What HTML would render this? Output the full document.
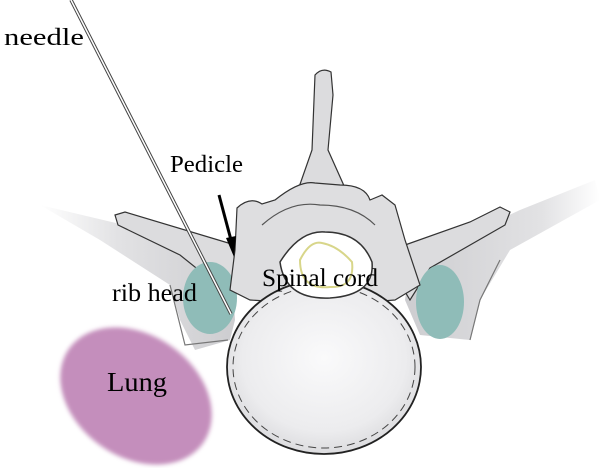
<!DOCTYPE html>
<html><head><meta charset="utf-8"><style>
html,body{margin:0;padding:0;background:#fff;width:600px;height:468px;overflow:hidden}
svg{display:block}
text{font-family:"Liberation Serif",serif;fill:#000}
</style></head><body>
<svg width="600" height="468" viewBox="0 0 600 468" xmlns="http://www.w3.org/2000/svg">
<defs>
<linearGradient id="rl" x1="0" y1="0" x2="1" y2="0">
<stop offset="0" stop-color="#fff"/><stop offset="0.4" stop-color="#e2e2e4"/><stop offset="1" stop-color="#cdcdd0"/></linearGradient>
<linearGradient id="rr" x1="1" y1="0" x2="0" y2="0">
<stop offset="0" stop-color="#fff"/><stop offset="0.3" stop-color="#e2e2e4"/><stop offset="1" stop-color="#cdcdd0"/></linearGradient>
<radialGradient id="bd" cx="0.5" cy="0.45" r="0.6">
<stop offset="0" stop-color="#fafafb"/><stop offset="0.7" stop-color="#ececee"/><stop offset="1" stop-color="#d6d6d9"/></radialGradient>
<filter id="bl"><feGaussianBlur stdDeviation="2"/></filter>
</defs>
<ellipse cx="136" cy="396" rx="82" ry="61" transform="rotate(35 136 396)" fill="#c48ebc" filter="url(#bl)"/>
<path d="M40 205 L230 250 L235 320 L230 340 L195 350 L180 320 L170 285 L100 240 Z" fill="url(#rl)"/>
<path d="M170 285 L185 345 L228 340" stroke="#777" stroke-width="1.2" fill="none"/>
<path d="M595 180 L520 210 L410 262 L405 300 L420 335 L470 340 L480 300 L510 250 L600 200 Z" fill="url(#rr)"/>
<path d="M470 340 L480 300 L500 260" stroke="#777" stroke-width="1.2" fill="none"/>
<path d="M115 215 L125 212 L235 245 L240 290 L225 300 L205 275 L180 255 L118 225 Z" fill="#dcdcde" stroke="#333" stroke-width="1.2"/>
<path d="M500 207 L510 212 L505 225 L430 268 L410 300 L398 280 L405 245 L470 222 Z" fill="#dcdcde" stroke="#333" stroke-width="1.2"/>
<ellipse cx="210" cy="298" rx="27" ry="36" fill="#8fbcb8"/>
<ellipse cx="440" cy="302" rx="24" ry="37" fill="#8fbcb8"/>
<path d="M315 75 Q322 67 331 72 L333 95 L328 150 L345 188 L298 190 L312 150 Z" fill="#dcdcde" stroke="#333" stroke-width="1.2"/>
<path d="M237 208 Q250 196 262 204 L275 200 Q300 180 315 183 L340 185 Q365 185 370 200 L382 195 L395 205 L405 240 L420 285 L395 300 L330 305 L250 300 L230 290 L235 250 Z" fill="#dedee0" stroke="#333" stroke-width="1.2"/>
<path d="M262 225 Q290 200 320 205 Q355 205 375 225" stroke="#555" fill="none" stroke-width="1.2"/>
<ellipse cx="324" cy="367" rx="97" ry="87" fill="url(#bd)" stroke="#222" stroke-width="1.8"/>
<ellipse cx="324" cy="367" rx="91" ry="81" fill="none" stroke="#444" stroke-width="1" stroke-dasharray="8 5"/>
<path d="M280 262 Q300 230 325 232 Q360 232 372 262 Q375 295 330 298 Q285 300 280 262 Z" fill="#fff" stroke="#333" stroke-width="1.5"/>
<path d="M300 260 Q310 240 322 243 Q338 246 352 262 Q355 288 330 287 Q300 290 300 260 Z" fill="none" stroke="#d8d68a" stroke-width="2"/>
<line x1="71" y1="0" x2="231" y2="314" stroke="#444" stroke-width="3.5"/>
<line x1="71" y1="0" x2="231" y2="314" stroke="#fff" stroke-width="1.5"/>
<line x1="219" y1="195" x2="231" y2="240" stroke="#000" stroke-width="3"/>
<path d="M226 238 L236 236 L234 257 Z" fill="#000"/>
<text x="4" y="45" font-size="24" textLength="80" lengthAdjust="spacingAndGlyphs">needle</text>
<text x="170" y="172" font-size="24" textLength="73" lengthAdjust="spacingAndGlyphs">Pedicle</text>
<text x="112" y="301" font-size="25" textLength="85" lengthAdjust="spacingAndGlyphs">rib head</text>
<text x="262" y="286" font-size="25" textLength="116" lengthAdjust="spacingAndGlyphs">Spinal cord</text>
<text x="107" y="391" font-size="27" textLength="60" lengthAdjust="spacingAndGlyphs">Lung</text>
</svg>
</body></html>
